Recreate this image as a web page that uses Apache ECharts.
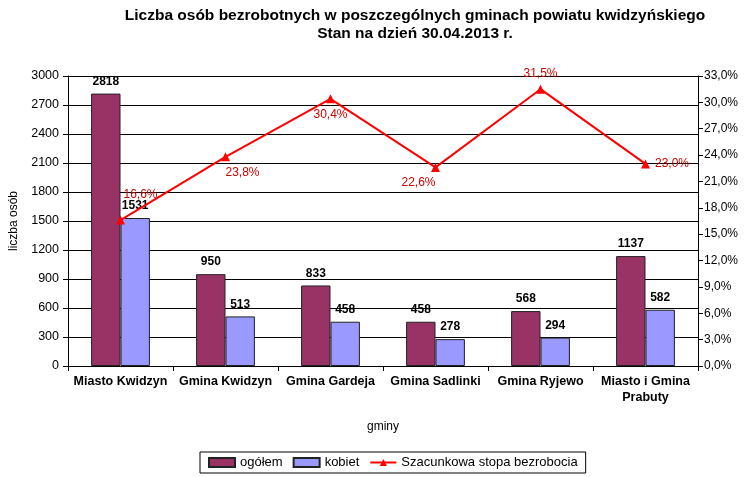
<!DOCTYPE html>
<html><head><meta charset="utf-8">
<script src="https://cdn.jsdelivr.net/npm/echarts@6/dist/echarts.min.js"></script>
<style>html,body{margin:0;padding:0;background:#fff}#c{width:752px;height:477px}</style>
</head><body><div id="c"></div>
<script>
const categories = ['Miasto Kwidzyn','Gmina Kwidzyn','Gmina Gardeja','Gmina Sadlinki','Gmina Ryjewo','Miasto i Gmina\nPrabuty'];
const ogolem = [2818, 950, 833, 458, 568, 1137];
const kobiet = [1531, 513, 458, 278, 294, 582];
const stopa = [16.6, 23.8, 30.4, 22.6, 31.5, 23.0];
const stopaLabelPos = ['top', 'bottom', 'bottom', 'bottom', 'top', 'right'];
const stopaLabelOffset = [[20, -10], [17, 0], [0, 0], [-17, 0], [0, 0], [0, 0]];

const chart = echarts.init(document.getElementById('c'));
const fmtPct = v => v.toFixed(1).replace('.', ',') + '%';
chart.setOption({
  animation: false,
  textStyle: {fontFamily: 'Liberation Sans, Arial, sans-serif'},
  title: {
    text: 'Liczba osób bezrobotnych w poszczególnych gminach powiatu kwidzyńskiego\nStan na dzień 30.04.2013 r.',
    left: 410, top: 2, textAlign: 'center',
    textStyle: {fontSize: 15.5, fontWeight: 'bold', color: '#000', lineHeight: 18}
  },
  legend: {
    bottom: 4, left: 200,
    borderColor: '#000', borderWidth: 1, padding: [4, 8],
    itemWidth: 26, itemHeight: 9, itemGap: 10,
    textStyle: {fontSize: 13, color: '#000'},
    data: [
      {name: 'ogółem', icon: 'rect'},
      {name: 'kobiet', icon: 'rect'},
      {name: 'Szacunkowa stopa bezrobocia'}
    ]
  },
  grid: {left: 66, right: 54, top: 76, bottom: 111, containLabel: false},
  xAxis: {
    type: 'category', data: categories,
    name: 'gminy', nameLocation: 'middle', nameGap: 55,
    nameTextStyle: {fontSize: 12, color: '#000'},
    axisLine: {lineStyle: {color: '#000'}},
    axisTick: {show: true, length: 5, lineStyle: {color: '#000'}},
    axisLabel: {fontSize: 12.5, fontWeight: 'bold', color: '#000', margin: 8, interval: 0, lineHeight: 16}
  },
  yAxis: [{
    type: 'value', min: 0, max: 3000, interval: 300,
    name: 'liczba osób', nameLocation: 'middle', nameGap: 48, nameRotate: 90,
    nameTextStyle: {fontSize: 12, color: '#000'},
    axisLine: {show: true, lineStyle: {color: '#000'}},
    axisTick: {show: true, length: 5, lineStyle: {color: '#000'}},
    axisLabel: {fontSize: 12.5, color: '#000', margin: 9, formatter: v => String(v)},
    splitLine: {lineStyle: {color: '#000', width: 1}}
  }, {
    type: 'value', min: 0, max: 33, interval: 3, position: 'right',
    axisLine: {show: true, lineStyle: {color: '#000'}},
    axisTick: {show: true, length: 5, lineStyle: {color: '#000'}},
    axisLabel: {fontSize: 12, color: '#000', margin: 6, formatter: fmtPct},
    splitLine: {show: false}
  }],
  series: [{
    name: 'ogółem', type: 'bar', data: ogolem, barGap: '0%', barCategoryGap: '44%',
    itemStyle: {color: '#993366', borderColor: '#222', borderWidth: 1},
    label: {show: true, position: 'top', fontSize: 12, fontWeight: 'bold', color: '#000', distance: 6}
  }, {
    name: 'kobiet', type: 'bar', data: kobiet,
    itemStyle: {color: '#9999FF', borderColor: '#222', borderWidth: 1},
    label: {show: true, position: 'top', fontSize: 12, fontWeight: 'bold', color: '#000', distance: 6}
  }, {
    name: 'Szacunkowa stopa bezrobocia', type: 'line', yAxisIndex: 1,
    data: stopa.map((v, i) => ({value: v, label: {position: stopaLabelPos[i], offset: stopaLabelOffset[i]}})),
    symbol: 'triangle', symbolSize: 9,
    lineStyle: {color: '#FF0000', width: 2},
    itemStyle: {color: '#FF0000'},
    label: {show: true, fontSize: 12, color: '#CC0000', formatter: p => fmtPct(p.value), distance: 5},
    z: 10
  }]
});
</script></body></html>
